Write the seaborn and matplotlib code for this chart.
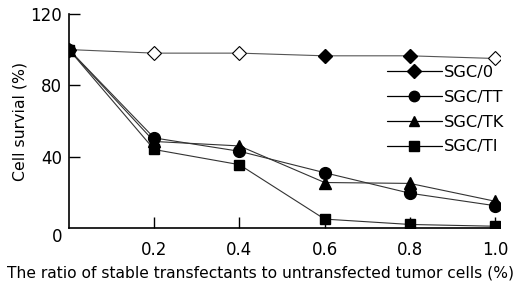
import seaborn as sns
import matplotlib.pyplot as plt
import matplotlib.transforms as mtransforms
import pandas as pd

# Data
ratio = [0.0, 0.2, 0.4, 0.6, 0.8, 1.0]
sgc_0 = [100, 98, 98, 96.5, 96.5, 95]
sgc_tt = [100, 50.5, 43, 31, 19.5, 12.5]
sgc_tk = [100, 48.5, 46, 25.5, 25, 15]
sgc_ti = [100, 44, 35.5, 5, 2, 1]
# which SGC/0 points are drawn as filled diamonds
sgc_0_filled = [True, False, False, True, True, False]

series = ['SGC/0', 'SGC/TT', 'SGC/TK', 'SGC/TI']
markers = {'SGC/0': 'D', 'SGC/TT': 'o', 'SGC/TK': '^', 'SGC/TI': 's'}
msizes = {'SGC/0': 7, 'SGC/TT': 8.5, 'SGC/TK': 8, 'SGC/TI': 7.5}
legend_ms = {'SGC/0': 7, 'SGC/TT': 7.5, 'SGC/TK': 7, 'SGC/TI': 6.5}
line_colors = {'SGC/0': '#555555', 'SGC/TT': '#333333', 'SGC/TK': '#333333', 'SGC/TI': '#333333'}

df = pd.DataFrame({
    'ratio': ratio * 4,
    'survival': sgc_0 + sgc_tt + sgc_tk + sgc_ti,
    'group': [s for s in series for _ in ratio],
})

sns.set_style('ticks', rc={'text.color': 'black', 'axes.labelcolor': 'black',
                           'xtick.color': 'black', 'ytick.color': 'black'})
plt.rcParams['font.family'] = ['DejaVu Sans']

fig = plt.figure(figsize=(5.26, 2.89), dpi=100)
ax = fig.add_axes([0.131, 0.211, 0.82, 0.741])

# draw lines in reverse order so SGC/0 filled diamond at x=0 is under the squares
for name in series[::-1]:
    sub = df[df['group'] == name]
    sns.lineplot(data=sub, x='ratio', y='survival', ax=ax, color=line_colors[name],
                 linewidth=0.8, marker=None, legend=False)

# markers
for name in series:
    sub = df[df['group'] == name].reset_index(drop=True)
    if name == 'SGC/0':
        filled = sub[pd.Series(sgc_0_filled)]
        hollow = sub[~pd.Series(sgc_0_filled)]
        ax.plot(filled['ratio'], filled['survival'], linestyle='none', marker='D',
                ms=msizes[name], color='black', zorder=4)
        ax.plot(hollow['ratio'], hollow['survival'], linestyle='none', marker='D',
                ms=msizes[name], mfc='white', mec='black', mew=0.8, zorder=4)
    else:
        ax.plot(sub['ratio'], sub['survival'], linestyle='none', marker=markers[name],
                ms=msizes[name], color='black', zorder=5)

ax.set_xlim(0, 1.012)
ax.set_ylim(0, 120)
ax.set_xticks([0.2, 0.4, 0.6, 0.8, 1.0])
ax.set_xticklabels(['0.2', '0.4', '0.6', '0.8', '1.0'])
ax.set_yticks([0, 40, 80, 120])
ax.set_yticklabels(['0', '40', '80', '120'])
ax.tick_params(axis='both', direction='in', length=8, width=1, labelsize=12, color='black')
ax.tick_params(axis='x', pad=9)
ax.tick_params(axis='y', pad=5)
for lab in ax.get_yticklabels():
    if lab.get_text() == '0':
        lab.set_transform(lab.get_transform() + mtransforms.ScaledTranslation(0, -0.07, fig.dpi_scale_trans))
ax.yaxis.get_major_ticks()[0].tick1line.set_visible(False)

sns.despine(ax=ax)
for sp in ['left', 'bottom']:
    ax.spines[sp].set_linewidth(1.2)
    ax.spines[sp].set_color('black')

ax.set_xlabel('The ratio of stable transfectants to untransfected tumor cells (%)', fontsize=11.2)
ax.xaxis.set_label_coords(0.445, -0.175)
ax.set_ylabel('Cell survial (%)', fontsize=11.3)
ax.yaxis.set_label_coords(-0.097, 0.5)

handles = [plt.Line2D([], [], color='black', linewidth=0.9, marker=markers[n], ms=legend_ms[n],
                      markerfacecolor='black') for n in series]
ax.legend(handles, series, loc='upper left', bbox_to_anchor=(0.735, 0.775), bbox_transform=fig.transFigure,
          frameon=False, fontsize=11.7, handlelength=3.4, handletextpad=0.15, labelspacing=0.6,
          borderaxespad=0, borderpad=0)

fig.savefig('out.png', dpi=100)
